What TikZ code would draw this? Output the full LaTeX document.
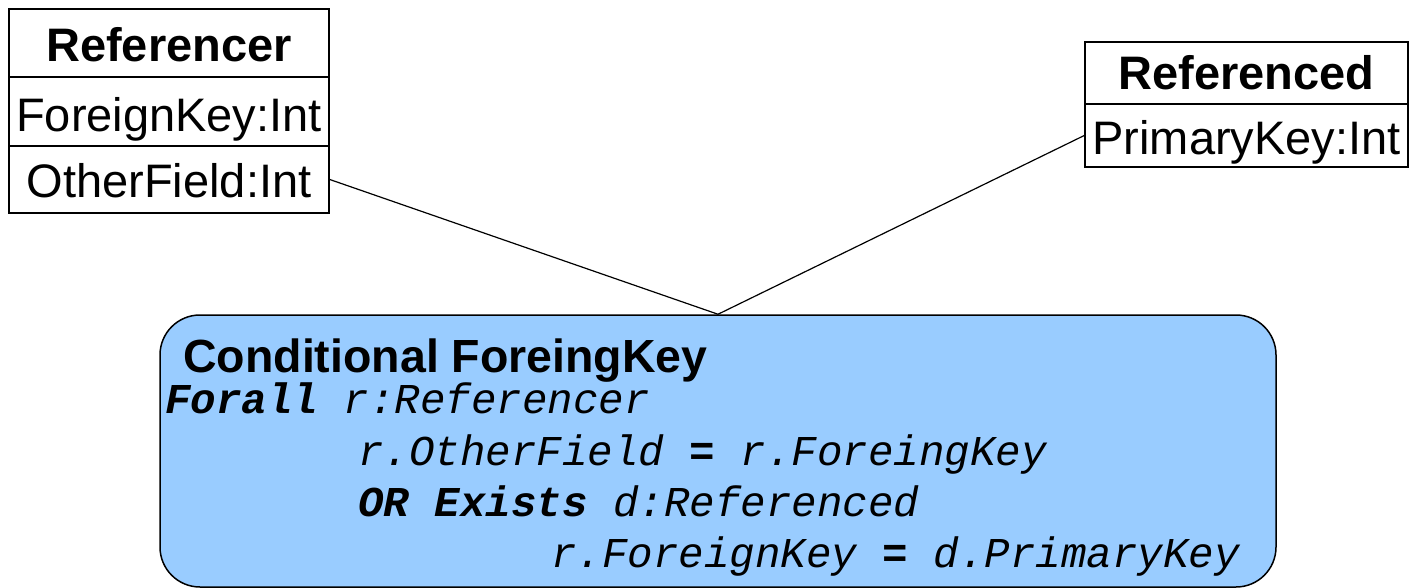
\documentclass[tikz,border=0pt]{standalone}
\usepackage{fontspec}
\setmainfont{Liberation Sans}
\newfontfamily\codefont{Liberation Mono}
\definecolor{constraintblue}{HTML}{99CCFF}

\tikzset{
  compartment/.style={draw, line width=1.5pt, inner sep=0pt, anchor=base,
    font=\fontsize{47}{56}\selectfont},
  header/.style={compartment, font=\fontsize{47}{56}\selectfont\bfseries},
  constraint/.style={draw, line width=1.5pt, fill=constraintblue,
    rounded corners=40pt, inner sep=0pt},
  title/.style={anchor=base west, inner sep=0pt,
    font=\fontsize{46.5}{56}\selectfont\bfseries},
  code/.style={anchor=base west, inner sep=0pt,
    font=\codefont\fontsize{42.5}{50}\selectfont\itshape},
  link/.style={line width=1.2pt},
}

\begin{document}
\begin{tikzpicture}[x=1pt,y=-1pt]
  \useasboundingbox (0,0) rectangle (1413,588);

  % class Referencer
  \node[header, minimum width=320pt, text height=53pt, text depth=15pt]
    (rrhead) at (169,62) {Referencer};
  \node[compartment, minimum width=320pt, text height=55pt, text depth=14pt]
    (rrfk) at (169,132) {ForeignKey:Int};
  \node[compartment, minimum width=320pt, text height=51pt, text depth=16pt]
    (rrother) at (169,197) {OtherField:Int};

  % class Referenced
  \node[header, minimum width=323pt, text height=48pt, text depth=14pt]
    (rdhead) at (1246.5,90) {Referenced};
  \node[compartment, minimum width=323pt, text height=51pt, text depth=12pt]
    (rdkey) at (1246.5,155) {PrimaryKey:Int};

  % constraint note
  \node[constraint, minimum width=1116pt, minimum height=272pt]
    (cfk) at (718,451) {};
  \node[title] (cfktitle) at (183,372) {Conditional ForeingKey};
  \node[code] (cl1) at (165,413) {\textbf{Forall} r:Referencer};
  \node[code] (cl2) at (358,465) {r.OtherField \textbf{=} r.ForeingKey};
  \node[code] (cl3) at (358,516) {\textbf{OR Exists} d:Referenced};
  \node[code] (cl4) at (551,567) {r.ForeignKey \textbf{=} d.PrimaryKey};

  % links from the constraint to both classes
  \draw[link] (rrother.east) -- (cfk.north);
  \draw[link] (rdkey.west) -- (cfk.north);
\end{tikzpicture}
\end{document}
